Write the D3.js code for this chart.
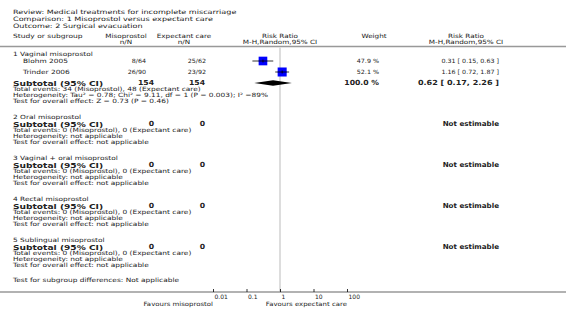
<!DOCTYPE html>
<html>
<head>
<meta charset="utf-8">
<script src="https://cdn.jsdelivr.net/npm/d3@7/dist/d3.min.js"></script>
<style>
  body { margin: 0; background: #fff; }
  svg { font-family: "DejaVu Sans", Verdana, sans-serif; }
</style>
</head>
<body>
<svg id="chart"></svg>
<script>
const width = 566, height = 317;

const titleLines = [
  "Review:  Medical treatments for incomplete miscarriage",
  "Comparison:  1 Misoprostol versus expectant care",
  "Outcome:  2 Surgical evacuation"
];

const groupNames = [
  "1 Vaginal misoprostol",
  "2 Oral misoprostol",
  "3 Vaginal + oral misoprostol",
  "4 Rectal misoprostol",
  "5 Sublingual misoprostol"
];

// studies (only group 1 has any)
const studyNames = ["Blohm 2005", "Trinder 2006"];
const studyGroup = [0, 0];
const studyMiso = ["8/64", "26/90"];
const studyExp = ["25/62", "23/92"];
const studyWeight = [47.9, 52.1];
const studyRR = [0.31, 1.16];
const studyLo = [0.15, 0.72];
const studyHi = [0.63, 1.87];

// subtotals per group
const subMisoN = [154, 0, 0, 0, 0];
const subExpN = [154, 0, 0, 0, 0];
const subWeight = ["100.0 %", "", "", "", ""];
const subRR = [0.62, null, null, null, null];
const subLo = [0.17, null, null, null, null];
const subHi = [2.26, null, null, null, null];
const subEvents = [
  "Total events: 34 (Misoprostol), 48 (Expectant care)",
  "Total events: 0 (Misoprostol), 0 (Expectant care)",
  "Total events: 0 (Misoprostol), 0 (Expectant care)",
  "Total events: 0 (Misoprostol), 0 (Expectant care)",
  "Total events: 0 (Misoprostol), 0 (Expectant care)"
];
const subHet = [
  "Heterogeneity: Tau\u00b2 = 0.78; Chi\u00b2 = 9.11, df = 1 (P = 0.003); I\u00b2 =89%",
  "Heterogeneity: not applicable",
  "Heterogeneity: not applicable",
  "Heterogeneity: not applicable",
  "Heterogeneity: not applicable"
];
const subTest = [
  "Test for overall effect: Z = 0.73 (P = 0.46)",
  "Test for overall effect: not applicable",
  "Test for overall effect: not applicable",
  "Test for overall effect: not applicable",
  "Test for overall effect: not applicable"
];
const subgroupDiff = "Test for subgroup differences: Not applicable";

const tickVals = [0.01, 0.1, 1, 10, 100];
const tickLabels = ["0.01", "0.1", "1", "10", "100"];

const svg = d3.select("#chart").attr("width", width).attr("height", height);
const txt = "#222";

const x = d3.scaleLog().domain([0.01, 100]).range([213, 347]);

// text helper; sx stretches glyphs sideways to match the wide reference face
function label(s, xx, yy, opts = {}) {
  const sx = opts.sx || 1;
  return svg.append("text")
    .attr("transform", `translate(${xx},${yy}) scale(${sx},1)`)
    .attr("dominant-baseline", "central")
    .attr("text-anchor", opts.anchor || "start")
    .attr("font-size", opts.size || 5.8)
    .attr("font-weight", opts.bold ? "bold" : "normal")
    .attr("fill", txt)
    .text(s);
}

// title
titleLines.forEach((t, i) => label(t, 13, 12 + i * 7, { size: 6, sx: 1.35 }));

// column headers
const hs = 1.25;
label("Study or subgroup", 13, 36, { sx: 1.3 });
label("Misoprostol", 126, 36, { anchor: "middle", sx: hs });
label("n/N", 126, 42, { anchor: "middle", sx: hs });
label("Expectant care", 184, 36, { anchor: "middle", sx: hs });
label("n/N", 184, 42, { anchor: "middle", sx: hs });
label("Risk Ratio", 280, 36, { anchor: "middle", sx: hs });
label("M-H,Random,95% CI", 280, 42, { anchor: "middle", sx: hs });
label("Weight", 374, 36, { anchor: "middle", sx: hs });
label("Risk Ratio", 466, 36, { anchor: "middle", sx: hs });
label("M-H,Random,95% CI", 466, 42, { anchor: "middle", sx: hs });

svg.append("line")
  .attr("x1", 0).attr("x2", width)
  .attr("y1", 46.5).attr("y2", 46.5)
  .attr("stroke", "#999").attr("stroke-width", 1.5);

// line of no effect
svg.append("line")
  .attr("x1", x(1)).attr("x2", x(1))
  .attr("y1", 47).attr("y2", 292)
  .attr("stroke", "#ddd").attr("stroke-width", 2);

const fmt = d3.format(".2f");
const ts = 1.28; // stretch for the left text column
let y = 54;
groupNames.forEach((g, gi) => {
  label(g, 13, y, { sx: ts });
  y += 7;
  studyNames.forEach((s, si) => {
    if (studyGroup[si] !== gi) return;
    label(s, 23, y, { sx: ts });
    label(studyMiso[si], 146, y, { anchor: "end", sx: 1.1 });
    label(studyExp[si], 206, y, { anchor: "end", sx: 1.1 });
    label(studyWeight[si].toFixed(1) + " %", 379, y, { anchor: "end", sx: 1.1 });
    label(`${fmt(studyRR[si])} [ ${fmt(studyLo[si])}, ${fmt(studyHi[si])} ]`, 499, y, { anchor: "end", sx: 1.1 });
    svg.append("line")
      .attr("x1", x(studyLo[si])).attr("x2", x(studyHi[si]))
      .attr("y1", y).attr("y2", y)
      .attr("stroke", "#000").attr("stroke-width", 0.8);
    const sz = 12.5 * Math.sqrt(studyWeight[si] / 100);
    svg.append("rect")
      .attr("x", x(studyRR[si]) - sz / 2).attr("y", y - sz / 2)
      .attr("width", sz).attr("height", sz)
      .attr("fill", "#0000ff");
    svg.append("line")
      .attr("x1", x(studyRR[si]) - sz / 2).attr("x2", x(studyRR[si]) + sz / 2)
      .attr("y1", y).attr("y2", y)
      .attr("stroke", "#000").attr("stroke-width", 0.8);
    svg.append("line")
      .attr("x1", x(studyRR[si])).attr("x2", x(studyRR[si]))
      .attr("y1", y - 1.5).attr("y2", y + 1.5)
      .attr("stroke", "#000").attr("stroke-width", 0.8);
    y += 11;
  });
  label("Subtotal (95% CI)", 13, y, { bold: true, size: 7, sx: 1.3 });
  label(subMisoN[gi], 154, y, { anchor: "end", bold: true, size: 7, sx: 1.1 });
  label(subExpN[gi], 205, y, { anchor: "end", bold: true, size: 7, sx: 1.1 });
  if (subWeight[gi]) label(subWeight[gi], 379, y, { anchor: "end", bold: true, size: 7, sx: 1.1 });
  if (subRR[gi] !== null) {
    label(`${fmt(subRR[gi])} [ ${fmt(subLo[gi])}, ${fmt(subHi[gi])} ]`, 499, y, { anchor: "end", bold: true, size: 7, sx: 1.15 });
    const pts = [[x(subLo[gi]), y], [x(subRR[gi]), y - 2.8], [x(subHi[gi]), y], [x(subRR[gi]), y + 2.8]];
    svg.append("polygon").attr("points", pts.map(p => p.join(",")).join(" ")).attr("fill", "#000");
  } else {
    label("Not estimable", 499, y, { anchor: "end", bold: true, size: 6.8, sx: 1.05 });
  }
  label(subEvents[gi], 13, y + 6.5, { sx: ts });
  label(subHet[gi], 13, y + 12.5, { sx: ts });
  label(subTest[gi], 13, y + 18.5, { sx: ts });
  y += 34;
});

label(subgroupDiff, 13, y - 1, { sx: ts });

// axis
const axisY = 292;
svg.append("line")
  .attr("x1", 0).attr("x2", width)
  .attr("y1", axisY).attr("y2", axisY)
  .attr("stroke", "#999").attr("stroke-width", 1.5);

const ax = svg.append("g")
  .attr("transform", `translate(0,${axisY})`)
  .call(d3.axisBottom(x).tickValues(tickVals)
    .tickFormat((d, i) => tickLabels[i]).tickSize(-3).tickPadding(3));
ax.select(".domain").remove();
ax.selectAll(".tick line").attr("stroke", "#000").attr("stroke-width", 0.8);
ax.selectAll(".tick text")
  .attr("text-anchor", "start").attr("dx", 1)
  .attr("font-size", 6).attr("font-family", "DejaVu Sans").attr("fill", txt);

label("Favours misoprostol", x(0.01), 304, { anchor: "end", sx: 1.2 });
label("Favours expectant care", x(100), 304, { anchor: "end", sx: 1.2 });
</script>
</body>
</html>
